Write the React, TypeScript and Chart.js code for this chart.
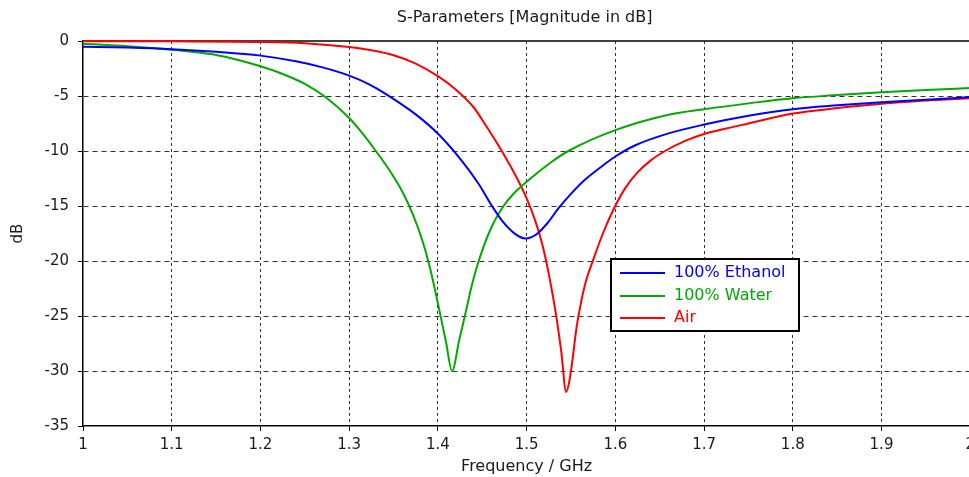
import React, { useEffect, useRef } from "react";
import { Chart, registerables } from "chart.js";

Chart.register(...registerables);

const chartTitle = "S-Parameters [Magnitude in dB]";
const xAxisTitle = "Frequency / GHz";
const yAxisTitle = "dB";
const xTicks = [1, 1.1, 1.2, 1.3, 1.4, 1.5, 1.6, 1.7, 1.8, 1.9, 2];
const yTicks = [0, -5, -10, -15, -20, -25, -30, -35];

const seriesNames = ["100% Ethanol", "100% Water", "Air"];
const seriesColors = ["#0000ff", "#00aa00", "#ff0000"];

const ethanolFreq = [1.0, 1.05, 1.1, 1.15, 1.2, 1.24, 1.27, 1.3, 1.3225, 1.341, 1.375, 1.401, 1.427, 1.446, 1.461, 1.472, 1.484, 1.491, 1.498, 1.505, 1.513, 1.524, 1.536, 1.55, 1.566, 1.583, 1.6, 1.622, 1.66, 1.7, 1.75, 1.8, 1.85, 1.9, 1.95, 2.0];
const ethanolDb = [-0.52, -0.6, -0.74, -0.98, -1.33, -1.85, -2.4, -3.15, -3.94, -4.8, -6.67, -8.5, -10.9, -13.0, -15.0, -16.3, -17.35, -17.75, -17.95, -17.85, -17.45, -16.5, -15.2, -13.9, -12.6, -11.5, -10.5, -9.5, -8.4, -7.6, -6.8, -6.2, -5.85, -5.57, -5.33, -5.1];

const waterFreq = [1.0, 1.05, 1.1, 1.125, 1.15, 1.175, 1.2, 1.225, 1.25, 1.275, 1.3, 1.315, 1.33, 1.345, 1.36, 1.372, 1.382, 1.391, 1.402, 1.409, 1.416, 1.424, 1.431, 1.438, 1.446, 1.46, 1.474, 1.484, 1.5, 1.528, 1.547, 1.6, 1.66, 1.7, 1.75, 1.8, 1.85, 1.9, 1.95, 2.0];
const waterDb = [-0.25, -0.48, -0.8, -1.0, -1.27, -1.72, -2.3, -3.0, -3.9, -5.2, -7.0, -8.4, -10.0, -11.7, -13.7, -15.8, -18.0, -20.6, -24.6, -27.3, -30.0, -27.2, -24.8, -22.3, -20.0, -17.0, -15.0, -14.0, -12.8, -11.0, -10.0, -8.1, -6.7, -6.2, -5.67, -5.2, -4.92, -4.67, -4.45, -4.28];

const airFreq = [1.0, 1.1, 1.2, 1.25, 1.3, 1.325, 1.35, 1.375, 1.4, 1.42, 1.44, 1.455, 1.472, 1.488, 1.5, 1.51, 1.518, 1.526, 1.533, 1.539, 1.5446, 1.548, 1.552, 1.556, 1.561, 1.567, 1.575, 1.586, 1.598, 1.611, 1.625, 1.64, 1.656, 1.678, 1.7, 1.725, 1.75, 1.8, 1.85, 1.9, 1.95, 2.0];
const airDb = [-0.02, -0.03, -0.08, -0.2, -0.55, -0.85, -1.3, -2.05, -3.2, -4.4, -6.0, -7.8, -10.0, -12.3, -14.3, -16.4, -18.6, -21.6, -24.8, -28.2, -31.9, -31.0, -28.8, -26.2, -23.9, -21.8, -19.9, -17.5, -15.3, -13.4, -11.95, -10.85, -10.0, -9.1, -8.45, -7.95, -7.5, -6.6, -6.1, -5.7, -5.42, -5.2];

const FONT = "'DejaVu Sans', Verdana, sans-serif";
const TEXT_COLOR = "#1a1a1a";
const GRID_COLOR = "#333";

const pairs = (xs: number[], ys: number[]) => xs.map((x, i) => ({ x, y: ys[i] }));

const decorPlugin = {
  id: "decor",
  beforeDatasetsDraw(chart: any) {
    const { ctx, chartArea } = chart;
    ctx.save();
    ctx.strokeStyle = "#000";
    ctx.lineWidth = 1.5;
    ctx.beginPath();
    ctx.moveTo(chartArea.left, chartArea.top);
    ctx.lineTo(chartArea.right, chartArea.top);
    ctx.stroke();
    ctx.restore();
  },
  afterDraw(chart: any) {
    const { ctx, chartArea } = chart;
    ctx.save();
    ctx.fillStyle = TEXT_COLOR;
    ctx.font = `16px ${FONT}`;
    ctx.textAlign = "center";
    ctx.textBaseline = "alphabetic";
    ctx.fillText(chartTitle, (chartArea.left + chartArea.right) / 2 - 2, 22);

    const bx = 611, by = 259, bw = 188, bh = 72;
    ctx.fillStyle = "#fff";
    ctx.fillRect(bx, by, bw, bh);
    ctx.strokeStyle = "#000";
    ctx.lineWidth = 2;
    ctx.strokeRect(bx, by, bw, bh);
    const rows = [273, 296, 318];
    chart.data.datasets.forEach((ds: any, i: number) => {
      const y = rows[i];
      ctx.strokeStyle = ds.borderColor;
      ctx.lineWidth = 2;
      ctx.beginPath();
      ctx.moveTo(620, y);
      ctx.lineTo(665, y);
      ctx.stroke();
      ctx.fillStyle = ds.borderColor;
      ctx.font = `16px ${FONT}`;
      ctx.textAlign = "left";
      ctx.textBaseline = "middle";
      ctx.fillText(ds.label, 674, y);
    });
    ctx.restore();
  },
};

export default function App() {
  const ref = useRef<HTMLCanvasElement | null>(null);
  useEffect(() => {
    if (!ref.current) return;
    const datasets = [
      pairs(ethanolFreq, ethanolDb),
      pairs(waterFreq, waterDb),
      pairs(airFreq, airDb),
    ].map((data, i) => ({
      label: seriesNames[i],
      data,
      borderColor: seriesColors[i],
      backgroundColor: seriesColors[i],
      borderWidth: 2,
      pointRadius: 0,
      cubicInterpolationMode: "monotone" as const,
      clip: false as any,
    }));
    const chart = new Chart(ref.current, {
      type: "line",
      data: { datasets },
      options: {
        animation: false,
        responsive: false,
        maintainAspectRatio: false,
        layout: { padding: { top: 41, right: 7, left: 0, bottom: 0 } },
        plugins: { legend: { display: false }, title: { display: false }, tooltip: { enabled: false } },
        scales: {
          x: {
            type: "linear",
            min: 1,
            max: 2,
            afterBuildTicks: (scale: any) => {
              scale.ticks = xTicks.map((v) => ({ value: v }));
            },
            afterFit: (scale: any) => {
              scale.height = 51;
            },
            ticks: {
              autoSkip: false,
              maxRotation: 0,
              padding: 5,
              color: TEXT_COLOR,
              font: { family: FONT, size: 15 },
              callback: (v: any) => String(Number(Number(v).toFixed(1))),
            },
            grid: {
              color: (c: any) => (c.tick && c.tick.value === 1 ? "rgba(0,0,0,0)" : GRID_COLOR),
              lineWidth: 1,
              tickLength: 5,
              tickColor: "#000",
              tickWidth: 1,
              tickBorderDash: [],
            },
            border: { display: true, color: "#000", width: 1.5, dash: [3, 3] },
            title: {
              display: true,
              text: xAxisTitle,
              color: TEXT_COLOR,
              font: { family: FONT, size: 16 },
              padding: { top: 0, bottom: 1 },
            },
          },
          y: {
            type: "linear",
            min: -35,
            max: 0,
            afterBuildTicks: (scale: any) => {
              scale.ticks = yTicks.slice().reverse().map((v) => ({ value: v }));
            },
            afterFit: (scale: any) => {
              scale.width = 83;
            },
            ticks: {
              padding: 9,
              color: TEXT_COLOR,
              font: { family: FONT, size: 15 },
              callback: (v: any) => String(v),
            },
            grid: {
              color: (c: any) => (c.tick && (c.tick.value === -35 || c.tick.value === 0) ? "rgba(0,0,0,0)" : GRID_COLOR),
              lineWidth: 1,
              tickLength: 5,
              tickColor: "#000",
              tickWidth: 1,
              tickBorderDash: [],
            },
            border: { display: true, color: "#000", width: 1.5, dash: [5, 4] },
            title: {
              display: true,
              text: yAxisTitle,
              color: TEXT_COLOR,
              font: { family: FONT, size: 15 },
              padding: { top: 9, bottom: 0 },
            },
          },
        },
      },
      plugins: [decorPlugin],
    });
    return () => chart.destroy();
  }, []);

  return (
    <div
      style={{
        position: "fixed",
        left: 0,
        top: 0,
        width: 969,
        height: 477,
        overflow: "hidden",
        background: "#fff",
      }}
    >
      <canvas ref={ref} width={980} height={477} style={{ width: 980, height: 477, display: "block" }} />
    </div>
  );
}
